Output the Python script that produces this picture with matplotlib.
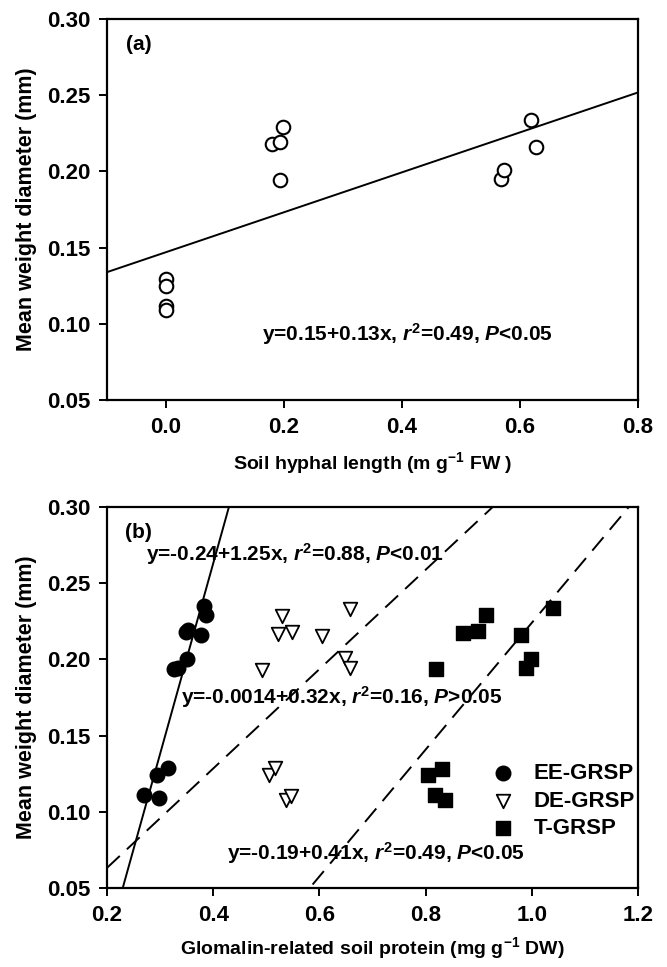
import matplotlib
matplotlib.use("Agg")
import matplotlib.pyplot as plt
import numpy as np
from matplotlib.ticker import FormatStrFormatter

plt.rcParams["font.family"] = ["Liberation Sans", "DejaVu Sans"]
plt.rcParams["font.weight"] = "bold"
plt.rcParams["axes.labelweight"] = "bold"
plt.rcParams["mathtext.fontset"] = "custom"
plt.rcParams["mathtext.rm"] = "Liberation Sans:bold"
plt.rcParams["mathtext.it"] = "Liberation Sans:bold:italic"
plt.rcParams["mathtext.bf"] = "Liberation Sans:bold"

# panel (a): hyphal length vs MWD
hyphal_x = [0.0, 0.0, 0.0, 0.0, 0.180, 0.194, 0.198, 0.194, 0.568, 0.573, 0.619, 0.627]
mwd = [0.1296, 0.1245, 0.1115, 0.1093, 0.2178, 0.219, 0.2294, 0.1943, 0.195, 0.201, 0.234, 0.216]
fit_a = (0.147, 0.131)

# panel (b): GRSP fractions vs MWD
ee_x = [0.270, 0.298, 0.295, 0.314, 0.326, 0.334, 0.350, 0.348, 0.353, 0.377, 0.382, 0.386]
ee_y = [0.1112, 0.109, 0.1244, 0.1287, 0.194, 0.1944, 0.2005, 0.2178, 0.219, 0.216, 0.2348, 0.2293]
de_x = [0.492, 0.522, 0.530, 0.548, 0.604, 0.648, 0.657, 0.657, 0.506, 0.517, 0.538, 0.547]
de_y = [0.193, 0.2167, 0.2287, 0.2178, 0.2156, 0.2009, 0.1944, 0.233, 0.1244, 0.1287, 0.108, 0.1106]
t_x = [0.819, 0.871, 0.899, 0.914, 0.979, 0.989, 0.998, 1.040, 0.805, 0.830, 0.817, 0.837]
t_y = [0.194, 0.2173, 0.2184, 0.2293, 0.2162, 0.1944, 0.2005, 0.2337, 0.1244, 0.1283, 0.1108, 0.108]
fit_ee = (-0.237, 1.25)
fit_de = (-0.002, 0.326)
fit_t = (-0.192, 0.416)

TICK_FS = 16
XLAB_FS = 14
YLAB_FS = 15.5
TXT_FS = 15

W, H = 667, 967
fig = plt.figure(figsize=(W / 100, H / 100), dpi=100)
ax1 = fig.add_axes([107 / W, 1 - 400 / H, 531 / W, 381 / H])
ax2 = fig.add_axes([107 / W, 1 - 888 / H, 531 / W, 381 / H])


def style(ax):
    for s in ax.spines.values():
        s.set_linewidth(1.6)
    ax.tick_params(direction="out", length=6, width=1.4, labelsize=TICK_FS, pad=6)
    ax.yaxis.set_major_formatter(FormatStrFormatter("%.2f"))
    ax.xaxis.set_major_formatter(FormatStrFormatter("%.1f"))
    ax.set_yticks([0.05, 0.10, 0.15, 0.20, 0.25, 0.30])


# (a)
ax1.scatter(hyphal_x, mwd, s=95, facecolors="white", edgecolors="black", linewidths=1.5, zorder=3)
xx = np.array([-0.1, 0.8])
ax1.plot(xx, fit_a[0] + fit_a[1] * xx, color="black", lw=1.4)
ax1.set_xlim(-0.1, 0.8)
ax1.set_ylim(0.05, 0.30)
ax1.set_xticks([0.0, 0.2, 0.4, 0.6, 0.8])
ax1.set_xlabel("Soil hyphal length (m g$^{-1}$ FW )", fontsize=XLAB_FS, labelpad=9)
ax1.set_ylabel("Mean weight diameter (mm)", fontsize=YLAB_FS, labelpad=7)
ax1.text(-0.068, 0.283, "(a)", fontsize=TXT_FS, ha="left", va="center")
ax1.text(0.162, 0.0936, "y=0.15+0.13x, $\\mathit{r}^2$=0.49, $\\mathit{P}$<0.05",
         fontsize=TXT_FS, ha="left", va="center")
style(ax1)

# (b)
ax2.scatter(ee_x, ee_y, s=110, marker="o", color="black", zorder=3, label="EE-GRSP")
ax2.scatter(de_x, de_y, s=95, marker="v", facecolors="white", edgecolors="black", linewidths=1.3,
            zorder=3, label="DE-GRSP")
ax2.scatter(t_x, t_y, s=100, marker="s", color="black", zorder=3, label="T-GRSP")
xb = np.linspace(0.2, 1.2, 200)
ax2.plot(xb, fit_ee[0] + fit_ee[1] * xb, color="black", lw=1.4)
ax2.plot(xb, fit_de[0] + fit_de[1] * xb, color="black", lw=1.4, dashes=(9, 5))
ax2.plot(xb, fit_t[0] + fit_t[1] * xb, color="black", lw=1.4, dashes=(9, 5))
ax2.set_xlim(0.2, 1.2)
ax2.set_ylim(0.05, 0.30)
ax2.set_xticks([0.2, 0.4, 0.6, 0.8, 1.0, 1.2])
ax2.set_xlabel("Glomalin-related soil protein (mg g$^{-1}$ DW)", fontsize=XLAB_FS, labelpad=7)
ax2.set_ylabel("Mean weight diameter (mm)", fontsize=YLAB_FS, labelpad=7)
ax2.text(0.233, 0.283, "(b)", fontsize=TXT_FS, ha="left", va="center")
ax2.text(0.274, 0.269, "y=-0.24+1.25x, $\\mathit{r}^2$=0.88, $\\mathit{P}$<0.01",
         fontsize=TXT_FS, ha="left", va="center")
ax2.text(0.34, 0.175, "y=-0.0014+0.32x, $\\mathit{r}^2$=0.16, $\\mathit{P}$>0.05",
         fontsize=TXT_FS, ha="left", va="center")
ax2.text(0.426, 0.073, "y=-0.19+0.41x, $\\mathit{r}^2$=0.49, $\\mathit{P}$<0.05",
         fontsize=TXT_FS, ha="left", va="center")
ax2.legend(loc="center left", bbox_to_anchor=(0.695, 0.228), frameon=False,
           fontsize=TXT_FS + 1, handletextpad=0.6, labelspacing=0.3, borderaxespad=0,
           handlelength=1.6)
style(ax2)

fig.savefig("out.png", dpi=100)
